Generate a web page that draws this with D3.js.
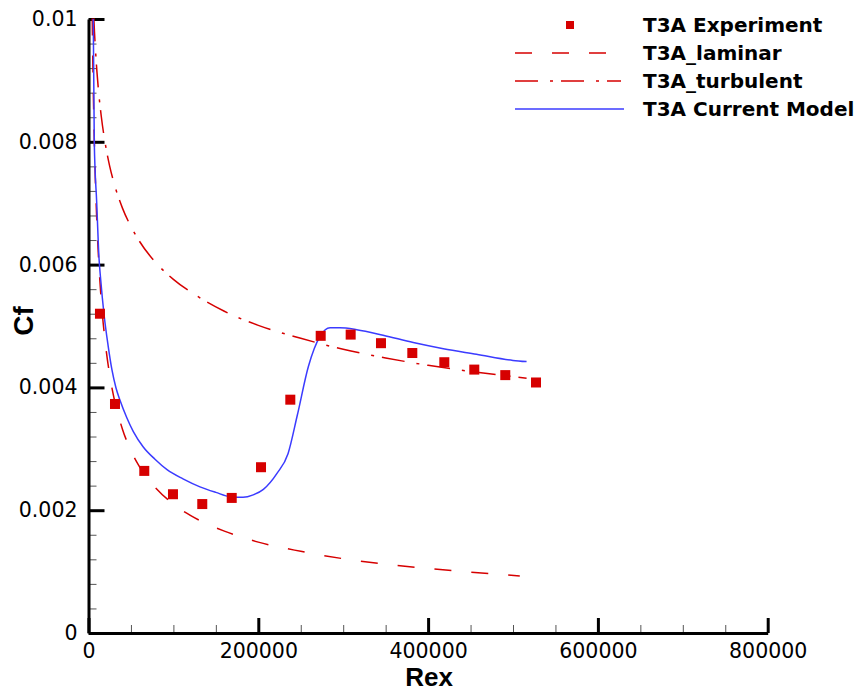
<!DOCTYPE html>
<html><head><meta charset="utf-8">
<script src="https://cdn.jsdelivr.net/npm/d3@7"></script>
<style>
html,body{margin:0;padding:0;background:#fff;}
svg{display:block;}
</style>
</head><body>
<svg id="chart" width="864" height="692"></svg>
<script>
// ---- data ----
const expRex = [13500, 31200, 65700, 99500, 134000, 168700, 203200, 237700, 273500, 308800, 344500, 381400, 419100, 454400, 490900, 527100];
const expCf  = [0.00520, 0.00373, 0.00264, 0.00226, 0.00210, 0.00220, 0.00270, 0.00380, 0.00484, 0.00486, 0.00472, 0.00456, 0.00441, 0.00429, 0.00420, 0.00408];

const lamRex = [4400, 5000, 6000, 7000, 8000, 10000, 12500, 15000, 20000, 25000, 30000, 40000, 50000, 60000, 80000, 100000, 130000, 160000, 200000, 250000, 300000, 350000, 400000, 450000, 508000];
const lamCf  = [0.01001, 0.00939, 0.00857, 0.00794, 0.00742, 0.00664, 0.00594, 0.00542, 0.00470, 0.00420, 0.00383, 0.00332, 0.00297, 0.00271, 0.00235, 0.00210, 0.00184, 0.00166, 0.00148, 0.00133, 0.00121, 0.00112, 0.00105, 0.00099, 0.00093];

const turRex = [6300, 7000, 8000, 10000, 12500, 15000, 20000, 25000, 30000, 40000, 50000, 60000, 80000, 100000, 130000, 160000, 200000, 250000, 300000, 350000, 400000, 450000, 516000];
const turCf  = [0.01001, 0.00980, 0.00955, 0.00913, 0.00873, 0.00842, 0.00795, 0.00760, 0.00733, 0.00692, 0.00662, 0.00638, 0.00602, 0.00576, 0.00547, 0.00524, 0.00501, 0.00480, 0.00462, 0.00448, 0.00436, 0.00426, 0.00415];

const modRex = [5600, 6800, 9700, 12400, 14400, 18200, 23000, 27700, 32400, 37100, 45000, 52800, 64500, 78300, 92500, 111300, 131300, 150000, 167000, 182000, 194000, 206000, 222000, 235000, 246000, 259000, 272700, 284500, 296000, 316000, 347000, 382500, 418000, 457000, 500000, 516000];
const modCf  = [0.0100, 0.0080, 0.0070, 0.0061, 0.00575, 0.00520, 0.00469, 0.00428, 0.00399, 0.00379, 0.00351, 0.00328, 0.00303, 0.00283, 0.00266, 0.00251, 0.00238, 0.00229, 0.00222, 0.00221, 0.00225, 0.00234, 0.00260, 0.00292, 0.00355, 0.00434, 0.00483, 0.00497, 0.00497, 0.00494, 0.00485, 0.00473, 0.00463, 0.00454, 0.00444, 0.00442];

const xTicks = [0, 200000, 400000, 600000, 800000];
const xTickLabels = ["0", "200000", "400000", "600000", "800000"];
const yTicks = [0, 0.002, 0.004, 0.006, 0.008, 0.01];
const yTickLabels = ["0", "0.002", "0.004", "0.006", "0.008", "0.01"];
const seriesNames = ["T3A Experiment", "T3A_laminar", "T3A_turbulent", "T3A Current Model"];
const xTitle = "Rex", yTitle = "Cf";

// ---- layout ----
const RED = "#d60000", BLUE = "#3b3bff";
const svg = d3.select("#chart");
const x = d3.scaleLinear().domain([0, 800000]).range([88.5, 767.7]);
const y = d3.scaleLinear().domain([0, 0.01]).range([633, 19]);
const tickFont = "'DejaVu Sans', sans-serif";

// minor ticks
const xMinor = d3.range(0, 800001, 50000).filter(v => v % 200000 !== 0);
const yMinor = d3.range(0, 26).map(i => i * 0.0004).filter((v, i) => i % 5 !== 0);

svg.append("g").attr("transform", "translate(0,633)")
  .call(d3.axisBottom(x).tickValues(xMinor).tickSize(-8).tickFormat(""))
  .call(g => g.select(".domain").remove())
  .call(g => g.selectAll("line").attr("stroke", "#555").attr("stroke-width", 1));
svg.append("g").attr("transform", "translate(88.5,0)")
  .call(d3.axisLeft(y).tickValues(yMinor).tickSize(-8).tickFormat(""))
  .call(g => g.select(".domain").remove())
  .call(g => g.selectAll("line").attr("stroke", "#555").attr("stroke-width", 1));

// major axes
const xAx = svg.append("g").attr("transform", "translate(0,633)")
  .call(d3.axisBottom(x).tickValues(xTicks).tickSize(-15).tickSizeOuter(0).tickPadding(10)
    .tickFormat((d, i) => xTickLabels[i]));
xAx.select(".domain").attr("stroke-width", 3).attr("stroke", "#000");
xAx.selectAll(".tick line").attr("stroke-width", 3).attr("stroke", "#000");
xAx.selectAll("text").attr("font-family", tickFont).attr("font-size", 20.5).attr("fill", "#000");

const yAx = svg.append("g").attr("transform", "translate(88.5,0)")
  .call(d3.axisLeft(y).tickValues(yTicks).tickSize(-16).tickSizeOuter(0).tickPadding(11)
    .tickFormat((d, i) => yTickLabels[i]));
yAx.select(".domain").attr("stroke-width", 3).attr("stroke", "#000");
yAx.selectAll(".tick line").attr("stroke-width", 3).attr("stroke", "#000");
yAx.selectAll("text").attr("font-family", tickFont).attr("font-size", 20.5).attr("fill", "#000");

// axis titles
svg.append("text").attr("x", 429).attr("y", 686).attr("text-anchor", "middle")
  .attr("font-family", "'Liberation Sans', Arial, sans-serif").attr("font-weight", "bold")
  .attr("font-size", 26).text(xTitle);
svg.append("text").attr("transform", "translate(33,321) rotate(-90)").attr("text-anchor", "middle")
  .attr("font-family", "'Liberation Sans', Arial, sans-serif").attr("font-weight", "bold")
  .attr("font-size", 28).text(yTitle);

// lines
const line = d3.line().x(d => x(d[0])).y(d => y(d[1])).curve(d3.curveMonotoneX);
svg.append("path").datum(lamRex.map((r, i) => [r, lamCf[i]]))
  .attr("d", line).attr("fill", "none").attr("stroke", RED).attr("stroke-width", 1.5)
  .attr("stroke-dasharray", "17,20");
svg.append("path").datum(turRex.map((r, i) => [r, turCf[i]]))
  .attr("d", line).attr("fill", "none").attr("stroke", RED).attr("stroke-width", 1.5)
  .attr("stroke-dasharray", "23,12,3,8");
svg.append("path").datum(modRex.map((r, i) => [r, modCf[i]]))
  .attr("d", line).attr("fill", "none").attr("stroke", BLUE).attr("stroke-width", 1.5);

// experiment squares
svg.append("g").selectAll("rect").data(expRex.map((r, i) => [r, expCf[i]])).join("rect")
  .attr("x", d => x(d[0]) - 5).attr("y", d => y(d[1]) - 5)
  .attr("width", 10).attr("height", 10).attr("fill", RED);

// legend
const leg = svg.append("g");
const rows = [25, 53, 81, 109];
leg.append("rect").attr("x", 566).attr("y", rows[0] - 4).attr("width", 8).attr("height", 8).attr("fill", RED);
leg.append("line").attr("x1", 515).attr("x2", 607).attr("y1", rows[1]).attr("y2", rows[1])
  .attr("stroke", RED).attr("stroke-width", 1.5).attr("stroke-dasharray", "17,20");
leg.append("line").attr("x1", 515).attr("x2", 621).attr("y1", rows[2]).attr("y2", rows[2])
  .attr("stroke", RED).attr("stroke-width", 1.5).attr("stroke-dasharray", "23,12,3,8");
leg.append("line").attr("x1", 515).attr("x2", 624).attr("y1", rows[3]).attr("y2", rows[3])
  .attr("stroke", BLUE).attr("stroke-width", 1.5);
leg.selectAll("text.lg").data(seriesNames).join("text").attr("class", "lg")
  .attr("x", 643).attr("y", (d, i) => rows[i]).attr("dy", "0.36em")
  .attr("font-family", "'DejaVu Sans', sans-serif").attr("font-weight", "bold")
  .attr("font-size", 20).attr("fill", "#000").text(d => d);
</script>
</body></html>
